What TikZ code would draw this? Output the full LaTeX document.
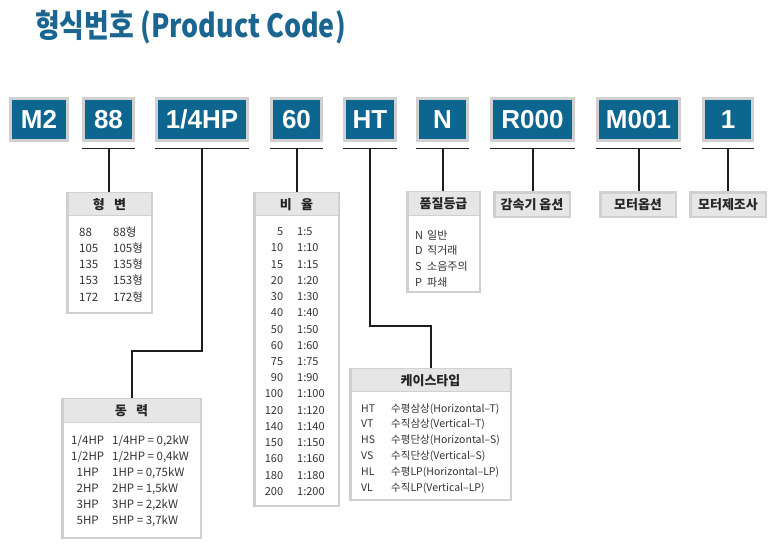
\documentclass[tikz,border=0pt]{standalone}
\usepackage{fontspec}
\usepackage{array}
\setmainfont{Noto Sans CJK KR}
\newfontfamily\arialf{Liberation Sans}
\usetikzlibrary{calc}
\definecolor{boxblue}{HTML}{0C6690}
\definecolor{titleblue}{HTML}{1B6690}
\definecolor{bordergray}{HTML}{D0D0D0}
\definecolor{headgray}{HTML}{E6E6E6}
\definecolor{linek}{HTML}{1E1E1E}
\definecolor{bodyk}{HTML}{333333}
\begin{document}
\begin{tikzpicture}[x=1pt,y=-1pt,
  codebox/.style={rectangle, fill=boxblue, draw=bordergray, line width=3pt, text=white,
    font=\arialf\bfseries\fontsize{26}{26}\selectfont, inner sep=0pt, minimum height=42pt},
  uline/.style={draw=linek, line width=1.3pt},
  conn/.style={draw=linek, line width=2pt},
  frame/.style={rectangle, fill=white, draw=bordergray, line width=2.5pt, inner sep=0pt},
  hdr/.style={rectangle, fill=headgray, inner sep=0pt, text=black!85,
    font=\bfseries\fontsize{13}{13}\selectfont},
  hbox/.style={rectangle, fill=headgray, draw=bordergray, line width=2.5pt, inner sep=0pt,
    text=black!85, font=\bfseries\fontsize{13}{13}\selectfont, minimum width=75.5pt, minimum height=24.5pt},
  sep/.style={draw=bordergray, line width=0.8pt},
  bodytxt/.style={inner sep=0pt, text=bodyk, font=\fontsize{11}{16.25}\selectfont, anchor=base west}
]
\fill[white] (0,0) rectangle (780,551);
\useasboundingbox (0,0) rectangle (780,551);

% title
\node[anchor=west, inner sep=0pt, text=titleblue, font=\bfseries\fontsize{32}{32}\selectfont] (title) at (35,27)
  {\scalebox{0.84}[1]{형식번호 (Product Code)}};

% code boxes
\node[codebox, minimum width=57pt] (b1) at (39,119.5) {M2};
\node[codebox, minimum width=50pt] (b2) at (108.5,119.5) {88};
\node[codebox, minimum width=91pt] (b3) at (202,119.5) {1/4HP};
\node[codebox, minimum width=50pt] (b4) at (296.5,119.5) {60};
\node[codebox, minimum width=51pt] (b5) at (370,119.5) {HT};
\node[codebox, minimum width=50pt] (b6) at (442.5,119.5) {N};
\node[codebox, minimum width=82pt] (b7) at (532.5,119.5) {R000};
\node[codebox, minimum width=82pt] (b8) at (638.5,119.5) {M001};
\node[codebox, minimum width=49pt] (b9) at (728,119.5) {1};

% underlines
\foreach \b in {b2,b3,b4,b5,b6,b7,b8,b9}{
  \draw[uline] ([yshift=-6.5pt]\b.south west) -- ([yshift=-6.5pt]\b.south east);
  \coordinate (u\b) at ([yshift=-6.5pt]\b.south);
}

% tables
\node[frame, minimum width=84.5pt, minimum height=119.5pt] (t1) at (109.5,253) {};
\node[hdr, minimum width=82pt, minimum height=22pt, anchor=north] (h1) at ([yshift=-1.25pt]t1.north) {형\hspace{0.7em}변};
\draw[sep] (h1.south west) -- (h1.south east);

\node[frame, minimum width=138.5pt, minimum height=138.5pt] (t2) at (131.5,468.5) {};
\node[hdr, minimum width=136pt, minimum height=22.5pt, anchor=north] (h2) at ([yshift=-1.25pt]t2.north) {동\hspace{0.7em}력};
\draw[sep] (h2.south west) -- (h2.south east);

\node[frame, minimum width=84.5pt, minimum height=312.5pt] (t3) at (296.5,349.5) {};
\node[hdr, minimum width=82pt, minimum height=21.5pt, anchor=north] (h3) at ([yshift=-1.25pt]t3.north) {비\hspace{0.7em}율};
\draw[sep] (h3.south west) -- (h3.south east);

\node[frame, minimum width=160.5pt, minimum height=130.5pt] (t4) at (430.5,434.5) {};
\node[hdr, minimum width=158pt, minimum height=22pt, anchor=north] (h4) at ([yshift=-1.25pt]t4.north) {케이스타입};
\draw[sep] (h4.south west) -- (h4.south east);

\node[frame, minimum width=72.5pt, minimum height=99.5pt] (t5) at (443.5,242) {};
\node[hdr, minimum width=70pt, minimum height=23pt, anchor=north] (h5) at ([yshift=-1.25pt]t5.north) {품질등급};
\draw[sep] (h5.south west) -- (h5.south east);

\node[hbox] (t6) at (532,204.5) {감속기 옵션};
\node[hbox] (t7) at (638,204.5) {모터옵션};
\node[hbox] (t8) at (728,204.5) {모터제조사};

% table bodies
\node[bodytxt, font=\fontsize{11.5}{16.3}\selectfont] (r1) at (79,236) {\begin{tabular}[t]{@{}p{34pt}@{}l@{}}
88&88형\\105&105형\\135&135형\\153&153형\\172&172형\end{tabular}};

\node[bodytxt, font=\fontsize{11.5}{16}\selectfont] (r2) at (68,444.5) {\begin{tabular}[t]{@{}>{\centering\arraybackslash}p{39pt}@{\hspace{5pt}}l@{}}
1/4HP&1/4HP = 0,2kW\\1/2HP&1/2HP = 0,4kW\\1HP&1HP = 0,75kW\\2HP&2HP = 1,5kW\\3HP&3HP = 2,2kW\\5HP&5HP = 3,7kW\end{tabular}};

\node[bodytxt] (r3) at (253,235.5) {\begin{tabular}[t]{@{}>{\raggedleft\arraybackslash}p{30pt}@{\hspace{14pt}}l@{}}
5&1:5\\10&1:10\\15&1:15\\20&1:20\\30&1:30\\40&1:40\\50&1:50\\60&1:60\\75&1:75\\90&1:90\\100&1:100\\120&1:120\\140&1:140\\150&1:150\\160&1:160\\180&1:180\\200&1:200\end{tabular}};

\node[bodytxt, font=\fontsize{10.5}{15.8}\selectfont] (r4) at (361,412) {\begin{tabular}[t]{@{}p{30pt}@{}l@{}}
HT&수평삼상(Horizontal–T)\\VT&수직삼상(Vertical–T)\\HS&수평단상(Horizontal–S)\\VS&수직단상(Vertical–S)\\HL&수평LP(Horizontal–LP)\\VL&수직LP(Vertical–LP)\end{tabular}};

\node[bodytxt, font=\fontsize{11}{15.8}\selectfont] (r5) at (415,239) {\begin{tabular}[t]{@{}p{12pt}@{}l@{}}
N&일반\\D&직거래\\S&소음주의\\P&파쇄\end{tabular}};

% connectors
\coordinate (k3) at (205,351);
\coordinate (k5) at (370,326);
\draw[conn] (ub2) -- (ub2 |- t1.north);
\draw[conn] (ub3) -- (ub3 |- k3) -| (t2.north);
\draw[conn] (ub4) -- (ub4 |- t3.north);
\draw[conn] (ub5) -- (ub5 |- k5) -| (t4.north);
\draw[conn] (ub6) -- (ub6 |- t5.north);
\draw[conn] (ub7) -- (ub7 |- t6.north);
\draw[conn] (ub8) -- (ub8 |- t7.north);
\draw[conn] (ub9) -- (ub9 |- t8.north);
\end{tikzpicture}
\end{document}
